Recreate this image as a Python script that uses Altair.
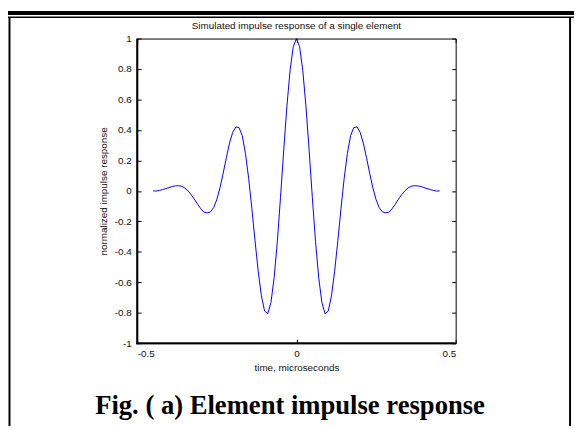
import altair as alt
import pandas as pd

# ---- data ----
half_time = [0.00, 0.01, 0.02, 0.03, 0.04, 0.05, 0.06, 0.07, 0.08, 0.09,
             0.10, 0.11, 0.12, 0.13, 0.14, 0.15, 0.16, 0.17, 0.18, 0.19,
             0.20, 0.21, 0.22, 0.23, 0.24, 0.25, 0.26, 0.27, 0.28, 0.29,
             0.30, 0.31, 0.32, 0.33, 0.34, 0.35, 0.36, 0.37, 0.38, 0.39,
             0.40, 0.41, 0.42, 0.43, 0.44, 0.45]
half_resp = [1.000, 0.946, 0.790, 0.553, 0.263, -0.044, -0.333, -0.570, -0.733, -0.806,
             -0.788, -0.689, -0.527, -0.327, -0.115, 0.083, 0.246, 0.362, 0.415, 0.420,
             0.385, 0.314, 0.218, 0.116, 0.020, -0.057, -0.110, -0.138, -0.144, -0.140,
             -0.118, -0.088, -0.056, -0.026, -0.001, 0.019, 0.030, 0.034, 0.033, 0.029,
             0.022, 0.015, 0.009, 0.003, -0.001, 0.000]

time = [-t for t in half_time[:0:-1]] + half_time
response = half_resp[:0:-1] + half_resp

x_ticks = [-0.5, 0, 0.5]
y_ticks = [-1, -0.8, -0.6, -0.4, -0.2, 0, 0.2, 0.4, 0.6, 0.8, 1]

TITLE = "Simulated impulse response of a single element"
X_TITLE = "time, microseconds"
Y_TITLE = "normalized impulse response"
CAPTION = "Fig. ( a) Element impulse response"

df = pd.DataFrame({"time": time, "response": response})

W, H = 323, 309
FONT = "Liberation Sans"
FS = 10

xscale = alt.Scale(domain=[-0.5, 0.5], nice=False, zero=False)
yscale = alt.Scale(domain=[-1, 1], nice=False, zero=False)

common_axis = dict(grid=False, domain=False, tickColor="black", tickSize=4,
                   offset=-4, tickWidth=1, labelColor="#111", labelFont=FONT,
                   labelFontSize=FS, titleFont=FONT, titleFontSize=FS,
                   titleFontWeight="normal", titleColor="#111",
                   labelExpr="'' + datum.value")

line = alt.Chart(df).mark_line(color="#0000ff", strokeWidth=1).encode(
    x=alt.X("time:Q", scale=xscale,
            axis=alt.Axis(orient="bottom", values=x_ticks, title=X_TITLE,
                          labelPadding=5, titlePadding=5, **common_axis)),
    y=alt.Y("response:Q", scale=yscale,
            axis=alt.Axis(orient="left", values=y_ticks, title=Y_TITLE,
                          labelPadding=6, titlePadding=6, **common_axis)),
)

mirror_axis = dict(common_axis)
mirror_axis.update(labels=False, title=None)
mirror_axis.pop("labelExpr")

mirror = alt.Chart(df).mark_line(opacity=0).encode(
    x=alt.X("time:Q", scale=xscale,
            axis=alt.Axis(orient="top", values=x_ticks, **mirror_axis)),
    y=alt.Y("response:Q", scale=yscale,
            axis=alt.Axis(orient="right", values=y_ticks, **mirror_axis)),
)

one = pd.DataFrame({"caption": [CAPTION], "title": [TITLE]})

title = alt.Chart(one).mark_text(
    font=FONT, fontSize=FS, color="#111", align="center", baseline="middle"
).encode(text="title:N", x=alt.value(W / 2), y=alt.value(-13))

caption = alt.Chart(one).mark_text(
    font="Liberation Serif", fontSize=27, fontWeight="bold", color="black",
    align="center", baseline="alphabetic"
).encode(text="caption:N", x=alt.value(155), y=alt.value(381))

# thicker left / bottom edges of the plot box
edge_left = alt.Chart(one).mark_rule(color="black", strokeWidth=2).encode(
    x=alt.value(0), y=alt.value(0), y2=alt.value(H + 1))
edge_bottom = alt.Chart(one).mark_rule(color="black", strokeWidth=2).encode(
    x=alt.value(-1), x2=alt.value(W), y=alt.value(H))

# page frame
frame_top_thick = alt.Chart(one).mark_rule(color="black", strokeWidth=4).encode(
    x=alt.value(-131), x2=alt.value(443), y=alt.value(-26))
frame_top_thin = alt.Chart(one).mark_rule(color="black", strokeWidth=1.5).encode(
    x=alt.value(-131), x2=alt.value(443), y=alt.value(-21.5))
frame_left = alt.Chart(one).mark_rule(color="black", strokeWidth=2).encode(
    x=alt.value(-129.5), y=alt.value(-21), y2=alt.value(393))
frame_right = alt.Chart(one).mark_rule(color="black", strokeWidth=2).encode(
    x=alt.value(439), y=alt.value(-21), y2=alt.value(393))

chart = alt.layer(
    line, mirror, edge_left, edge_bottom, title, caption,
    frame_top_thick, frame_top_thin, frame_left, frame_right
).resolve_axis(x="independent", y="independent").properties(
    width=W, height=H,
    autosize=alt.AutoSizeParams(type="none"),
    padding={"left": 131, "top": 28, "right": 120, "bottom": 84},
).configure(
    background="white",
    view=alt.ViewConfig(stroke="black", strokeWidth=1),
)

chart.save("out.html", embed_options={"renderer": "svg", "actions": False})
